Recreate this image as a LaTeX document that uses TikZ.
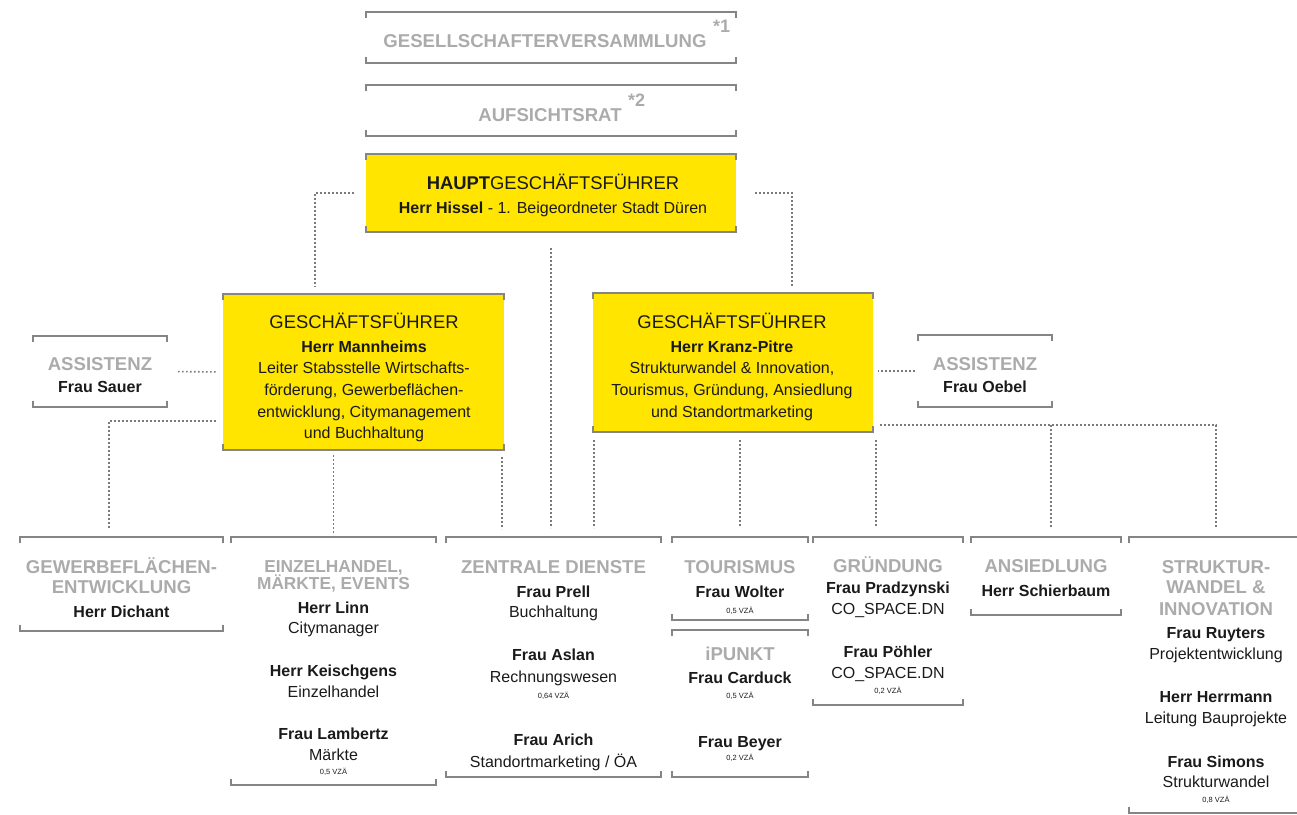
\documentclass[tikz,border=0pt]{standalone}
\usepackage{fontspec}
\setmainfont{Liberation Sans}
\definecolor{gfyellow}{HTML}{FFE500}
\definecolor{ttlgray}{HTML}{ABABAB}
\definecolor{ink}{HTML}{1A1A1A}
\definecolor{brkgray}{HTML}{858585}
\definecolor{dotgray}{HTML}{7A7A7A}
\newcommand\brkt[1]{%
  \draw[brk] ([yshift=-6pt]#1.north west) -- (#1.north west) -- (#1.north east) -- ([yshift=-6pt]#1.north east);
  \draw[brk] ([yshift=6pt]#1.south west) -- (#1.south west) -- (#1.south east) -- ([yshift=6pt]#1.south east);}
\tikzset{
  area/.style={inner sep=0pt, outer sep=0pt, anchor=north west},
  yarea/.style={area, fill=gfyellow},
  brk/.style={draw=brkgray, line width=1.3pt},
  conn/.style={draw=dotgray, line width=1.6pt, dash pattern=on 1.6pt off 2.4pt},
  ttl/.style={font=\bfseries\fontsize{18.6}{18.6}\selectfont, text=ttlgray, anchor=base, inner sep=0pt},
  ttlsmall/.style={ttl, font=\bfseries\fontsize{17.3}{17.3}\selectfont},
  star/.style={font=\bfseries\fontsize{18}{18}\selectfont, text=ttlgray, anchor=base west, inner sep=0pt},
  gft/.style={font=\fontsize{18.4}{18.4}\selectfont, text=ink, anchor=base, inner sep=0pt},
  nm/.style={font=\bfseries\fontsize{16}{16}\selectfont, text=ink, anchor=base, inner sep=0pt},
  tx/.style={font=\fontsize{16}{16}\selectfont, text=ink, anchor=base, inner sep=0pt},
  sm/.style={font=\fontsize{7.5}{7.5}\selectfont, text=ink, anchor=base, inner sep=0pt},
}
\begin{document}
\begin{tikzpicture}[x=1pt,y=-1pt]
\useasboundingbox (0,0) rectangle (1297,814);
% ---------- boxes ----------
\node[area, minimum width=370pt, minimum height=51pt] (gv) at (366,12) {};
\node[area, minimum width=370pt, minimum height=51pt] (ar) at (366,85) {};
\node[yarea, minimum width=370pt, minimum height=78pt] (hgf) at (366,154) {};
\node[yarea, minimum width=281pt, minimum height=156pt] (lgf) at (223,294) {};
\node[yarea, minimum width=280pt, minimum height=139pt] (rgf) at (593,293) {};
\node[area, minimum width=134pt, minimum height=71pt] (asl) at (33,336) {};
\node[area, minimum width=134pt, minimum height=72pt] (asr) at (918,335) {};
\node[area, minimum width=203pt, minimum height=94pt] (gew) at (20,537) {};
\node[area, minimum width=205pt, minimum height=248pt] (ein) at (231,537) {};
\node[area, minimum width=215pt, minimum height=240pt] (zen) at (446,537) {};
\node[area, minimum width=136pt, minimum height=83pt] (tou) at (672,537) {};
\node[area, minimum width=136pt, minimum height=147pt] (ipk) at (672,630) {};
\node[area, minimum width=150pt, minimum height=168pt] (gru) at (813,537) {};
\node[area, minimum width=150pt, minimum height=78pt] (ans) at (971,537) {};
\node[area, minimum width=174pt, minimum height=276pt] (str) at (1129,537) {};
\foreach \b in {gv,ar,hgf,lgf,rgf,asl,asr,gew,ein,zen,tou,ipk,gru,ans,str}{\brkt{\b}}
% ---------- connectors ----------
\coordinate (lgfin) at (315,294);
\coordinate (rgfin) at (792,293);
\coordinate (gewin) at (109,537);
\coordinate (ansin) at (1051,537);
\draw[conn, shorten <=12pt, shorten >=7pt] (hgf.west) -| (lgfin);
\draw[conn, shorten <=19pt, shorten >=6pt] (hgf.east) -| (rgfin);
\draw[conn, shorten <=16pt, shorten >=9pt] (hgf.south) -- (hgf.south |- zen.north);
\draw[conn, shorten <=11pt, shorten >=6pt] (asl.east) -- (lgf.west);
\draw[conn, shorten <=3pt, shorten >=5pt] (asr.west) -- (asr.west -| rgf.east);
\draw[conn, shorten <=7pt, shorten >=8pt] (lgf.west |- 0,421) -| (gewin);
\draw[conn, shorten <=5pt, shorten >=4pt] (lgf.south -| ein.north) -- (ein.north);
\draw[conn, shorten <=7pt, shorten >=8pt] ([xshift=-2pt]lgf.south east) -- ([xshift=-2pt]lgf.south east |- zen.north);
\draw[conn, shorten <=8pt, shorten >=9pt] ([xshift=1pt]rgf.south west) -- ([xshift=1pt]rgf.south west |- zen.north);
\draw[conn, shorten <=8pt, shorten >=10pt] (rgf.south -| tou.north) -- (tou.north);
\draw[conn, shorten <=8pt, shorten >=10pt] ([xshift=3pt]rgf.south east) -- ([xshift=3pt]rgf.south east |- gru.north);
\draw[conn, shorten <=7pt, shorten >=9pt] (rgf.east |- 0,425) -| (str.north);
\draw[conn, shorten >=9pt] (ansin |- 0,425) -- (ansin);
% ---------- texts: top ----------
\node[ttl] (gvT) at (545,47) {GESELLSCHAFTERVERSAMMLUNG};
\node[star] (gvS) at (713,32) {*1};
\node[ttl] (arT) at (550,121) {AUFSICHTSRAT};
\node[star] (arS) at (628,106) {*2};
\node[gft] (hgfT) at (553,189) {\textbf{HAUPT}GESCHÄFTSFÜHRER};
\node[tx] (hgfN) at (553,213) {\textbf{Herr Hissel} - 1. Beigeordneter Stadt Düren};
% ---------- GF left ----------
\node[gft] (lgfT) at (364,328) {GESCHÄFTSFÜHRER};
\node[nm] (lgfN) at (364,352) {Herr Mannheims};
\node[tx] (lgf1) at (364,373) {Leiter Stabsstelle Wirtschafts-};
\node[tx] (lgf2) at (364,395) {förderung, Gewerbeflächen-};
\node[tx] (lgf3) at (364,417) {entwicklung, Citymanagement};
\node[tx] (lgf4) at (364,438) {und Buchhaltung};
% ---------- GF right ----------
\node[gft] (rgfT) at (732,328) {GESCHÄFTSFÜHRER};
\node[nm] (rgfN) at (732,352) {Herr Kranz-Pitre};
\node[tx] (rgf1) at (732,373) {Strukturwandel \& Innovation,};
\node[tx] (rgf2) at (732,395) {Tourismus, Gründung, Ansiedlung};
\node[tx] (rgf3) at (732,417) {und Standortmarketing};
% ---------- Assistenz ----------
\node[ttl] (aslT) at (100,370) {ASSISTENZ};
\node[nm] (aslN) at (100,392) {Frau Sauer};
\node[ttl] (asrT) at (985,370) {ASSISTENZ};
\node[nm] (asrN) at (985,392) {Frau Oebel};
% ---------- bottom row ----------
\node[ttl] (gewT1) at (121.5,573) {GEWERBEFLÄCHEN-};
\node[ttl] (gewT2) at (121.5,593) {ENTWICKLUNG};
\node[nm] (gewN) at (121.5,617) {Herr Dichant};
\node[ttlsmall] (einT1) at (333.5,572) {EINZELHANDEL,};
\node[ttlsmall] (einT2) at (333.5,589) {MÄRKTE, EVENTS};
\node[nm] (einN1) at (333.5,613) {Herr Linn};
\node[tx] (einR1) at (333.5,633) {Citymanager};
\node[nm] (einN2) at (333.5,676) {Herr Keischgens};
\node[tx] (einR2) at (333.5,697) {Einzelhandel};
\node[nm] (einN3) at (333.5,739) {Frau Lambertz};
\node[tx] (einR3) at (333.5,760) {Märkte};
\node[sm] (einV3) at (333.5,774) {0,5 VZÄ};
\node[ttl] (zenT) at (553.5,573) {ZENTRALE DIENSTE};
\node[nm] (zenN1) at (553.5,597) {Frau Prell};
\node[tx] (zenR1) at (553.5,617) {Buchhaltung};
\node[nm] (zenN2) at (553.5,660) {Frau Aslan};
\node[tx] (zenR2) at (553.5,682) {Rechnungswesen};
\node[sm] (zenV2) at (553.5,698) {0,64 VZÄ};
\node[nm] (zenN3) at (553.5,745) {Frau Arich};
\node[tx] (zenR3) at (553.5,767) {Standortmarketing / ÖA};
\node[ttl] (touT) at (740,573) {TOURISMUS};
\node[nm] (touN) at (740,597) {Frau Wolter};
\node[sm] (touV) at (740,613) {0,5 VZÄ};
\node[ttl] (ipkT) at (740,660) {iPUNKT};
\node[nm] (ipkN1) at (740,683) {Frau Carduck};
\node[sm] (ipkV1) at (740,698) {0,5 VZÄ};
\node[nm] (ipkN2) at (740,747) {Frau Beyer};
\node[sm] (ipkV2) at (740,760) {0,2 VZÄ};
\node[ttl] (gruT) at (888,572) {GRÜNDUNG};
\node[nm] (gruN1) at (888,593) {Frau Pradzynski};
\node[tx] (gruR1) at (888,614) {CO\_SPACE.DN};
\node[nm] (gruN2) at (888,657) {Frau Pöhler};
\node[tx] (gruR2) at (888,678) {CO\_SPACE.DN};
\node[sm] (gruV2) at (888,693) {0,2 VZÄ};
\node[ttl] (ansT) at (1046,572) {ANSIEDLUNG};
\node[nm] (ansN) at (1046,596) {Herr Schierbaum};
\node[ttl] (strT1) at (1216,573) {STRUKTUR-};
\node[ttl] (strT2) at (1216,593) {WANDEL \&};
\node[ttl] (strT3) at (1216,615) {INNOVATION};
\node[nm] (strN1) at (1216,638) {Frau Ruyters};
\node[tx] (strR1) at (1216,659) {Projektentwicklung};
\node[nm] (strN2) at (1216,702) {Herr Herrmann};
\node[tx] (strR2) at (1216,723) {Leitung Bauprojekte};
\node[nm] (strN3) at (1216,767) {Frau Simons};
\node[tx] (strR3) at (1216,787) {Strukturwandel};
\node[sm] (strV3) at (1216,802) {0,8 VZÄ};
\end{tikzpicture}
\end{document}
